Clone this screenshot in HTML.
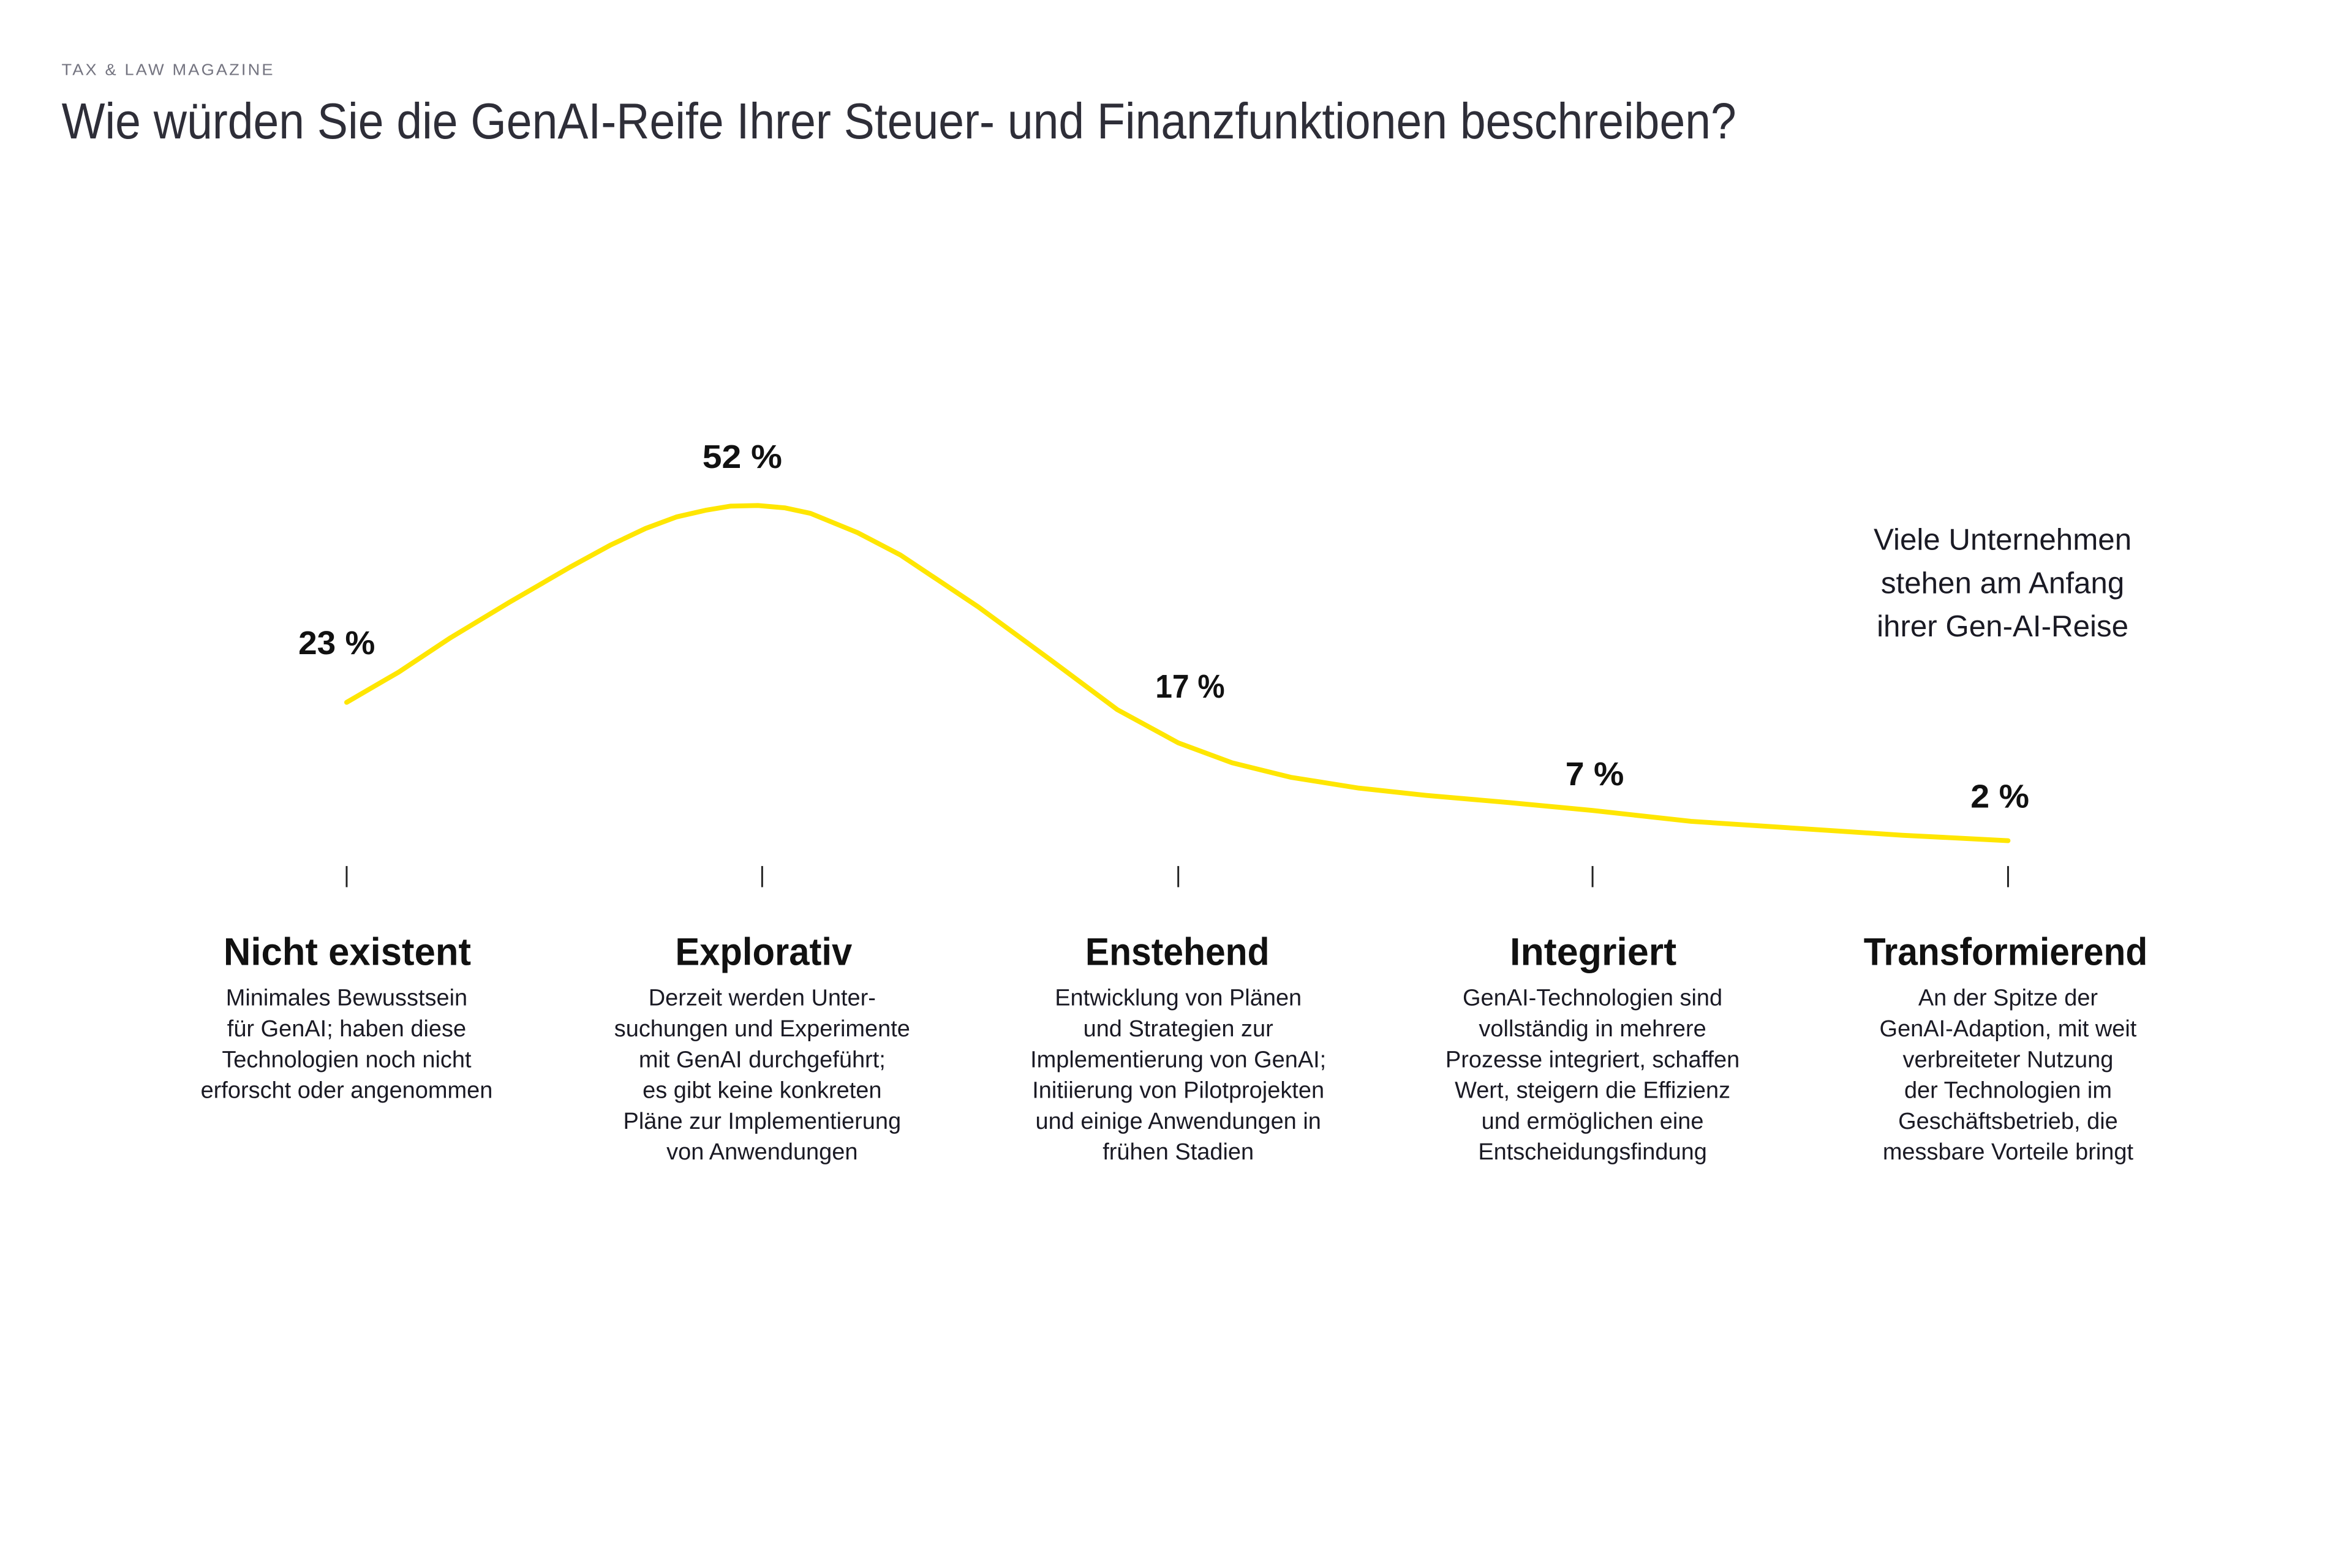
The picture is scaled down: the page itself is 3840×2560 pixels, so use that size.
<!DOCTYPE html>
<html><head><meta charset="utf-8"><style>
html,body{margin:0;padding:0;background:#fff;}
svg{display:block;}
text{font-family:"Liberation Sans",sans-serif;}
</style></head><body>
<svg width="3840" height="2560" viewBox="0 0 3840 2560" xmlns="http://www.w3.org/2000/svg">
<g transform="scale(0.986)">
<text x="102" y="124" font-size="26" fill="#747480" letter-spacing="3" textLength="353" lengthAdjust="spacingAndGlyphs">TAX &amp; LAW MAGAZINE</text>
<text x="102" y="229" font-size="84" fill="#2e2e38" textLength="2773" lengthAdjust="spacingAndGlyphs">Wie würden Sie die GenAI-Reife Ihrer Steuer- und Finanzfunktionen beschreiben?</text>

<polyline fill="none" stroke="#ffe600" stroke-width="8" stroke-linejoin="round" stroke-linecap="round"
points="574,1163 660,1113 746,1056 844,997 944,939 1010,903 1069,875 1120,856 1168,845 1210,838 1255,837 1300,841 1342,850 1420,882 1491,919 1620,1005 1740,1093 1850,1175 1951,1230 2040,1263 2137,1287 2250,1305 2361,1317 2500,1329 2637,1342 2800,1360 2982,1372 3150,1383 3325,1392"/>

<g font-weight="bold" font-size="55" fill="#111">
<text x="494" y="1083" textLength="127" lengthAdjust="spacingAndGlyphs">23 %</text>
<text x="1163" y="775" textLength="132" lengthAdjust="spacingAndGlyphs">52 %</text>
<text x="1913" y="1155" textLength="115" lengthAdjust="spacingAndGlyphs">17 %</text>
<text x="2592" y="1300" textLength="97" lengthAdjust="spacingAndGlyphs">7 %</text>
<text x="3263" y="1337" textLength="97" lengthAdjust="spacingAndGlyphs">2 %</text>
</g>

<g font-size="50" fill="#1a1a24" text-anchor="middle">
<text x="3316" y="910">Viele Unternehmen</text>
<text x="3316" y="982">stehen am Anfang</text>
<text x="3316" y="1054">ihrer Gen-AI-Reise</text>
</g>

<g stroke="#222" stroke-width="3">
<line x1="574" y1="1434" x2="574" y2="1469"/>
<line x1="1262" y1="1434" x2="1262" y2="1469"/>
<line x1="1951" y1="1434" x2="1951" y2="1469"/>
<line x1="2637" y1="1434" x2="2637" y2="1469"/>
<line x1="3325" y1="1434" x2="3325" y2="1469"/>
</g>

<g font-weight="bold" font-size="64" fill="#111">
<text x="370" y="1598" textLength="410" lengthAdjust="spacingAndGlyphs">Nicht existent</text>
<text x="1118" y="1598" textLength="293" lengthAdjust="spacingAndGlyphs">Explorativ</text>
<text x="1797" y="1598" textLength="305" lengthAdjust="spacingAndGlyphs">Enstehend</text>
<text x="2500" y="1598" textLength="276" lengthAdjust="spacingAndGlyphs">Integriert</text>
<text x="3086" y="1598" textLength="470" lengthAdjust="spacingAndGlyphs">Transformierend</text>
</g>

<g font-size="38.5" fill="#1a1a24" text-anchor="middle">
<text x="574" y="1665">Minimales Bewusstsein</text>
<text x="574" y="1716">für GenAI; haben diese</text>
<text x="574" y="1767">Technologien noch nicht</text>
<text x="574" y="1818">erforscht oder angenommen</text>

<text x="1262" y="1665">Derzeit werden Unter-</text>
<text x="1262" y="1716">suchungen und Experimente</text>
<text x="1262" y="1767">mit GenAI durchgeführt;</text>
<text x="1262" y="1818">es gibt keine konkreten</text>
<text x="1262" y="1869">Pläne zur Implementierung</text>
<text x="1262" y="1920">von Anwendungen</text>

<text x="1951" y="1665">Entwicklung von Plänen</text>
<text x="1951" y="1716">und Strategien zur</text>
<text x="1951" y="1767">Implementierung von GenAI;</text>
<text x="1951" y="1818">Initiierung von Pilotprojekten</text>
<text x="1951" y="1869">und einige Anwendungen in</text>
<text x="1951" y="1920">frühen Stadien</text>

<text x="2637" y="1665">GenAI-Technologien sind</text>
<text x="2637" y="1716">vollständig in mehrere</text>
<text x="2637" y="1767">Prozesse integriert, schaffen</text>
<text x="2637" y="1818">Wert, steigern die Effizienz</text>
<text x="2637" y="1869">und ermöglichen eine</text>
<text x="2637" y="1920">Entscheidungsfindung</text>

<text x="3325" y="1665">An der Spitze der</text>
<text x="3325" y="1716">GenAI-Adaption, mit weit</text>
<text x="3325" y="1767">verbreiteter Nutzung</text>
<text x="3325" y="1818">der Technologien im</text>
<text x="3325" y="1869">Geschäftsbetrieb, die</text>
<text x="3325" y="1920">messbare Vorteile bringt</text>
</g>
</g>
</svg>
</body></html>
